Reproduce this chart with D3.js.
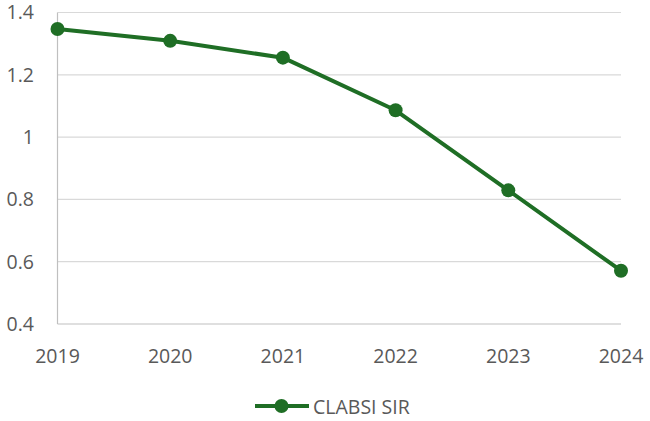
<!DOCTYPE html>
<html>
<head>
<meta charset="utf-8">
<script src="https://cdn.jsdelivr.net/npm/d3@7"></script>
<style>
  body { margin: 0; background: #fff; }
  text { font-family: "Open Sans", "Noto Sans", sans-serif; fill: #595959; }
</style>
</head>
<body>
<div id="chart"></div>
<script>
var years = ["2019", "2020", "2021", "2022", "2023", "2024"];
var sirValues = [1.347, 1.309, 1.255, 1.086, 0.829, 0.571];
var yTicks = [0.4, 0.6, 0.8, 1.0, 1.2, 1.4];
var seriesName = "CLABSI SIR";

var width = 650, height = 421;
var plotLeft = 57.5, plotRight = 621, plotTop = 12.5, plotBottom = 324;
var green = "#1f6e25";
var fontSize = "19.5px";

var svg = d3.select("#chart").append("svg")
	.attr("width", width).attr("height", height);

var x = d3.scalePoint().domain(years).range([plotLeft, plotRight]);
var y = d3.scaleLinear().domain([0.4, 1.4]).range([plotBottom, plotTop]);

// gridlines
svg.append("g").selectAll("line").data(yTicks).enter().append("line")
	.attr("x1", plotLeft).attr("x2", plotRight)
	.attr("y1", function(d) { return y(d); })
	.attr("y2", function(d) { return y(d); })
	.attr("stroke", function(d) { return d === 0.4 ? "#bfbfbf" : "#d9d9d9"; })
	.attr("stroke-width", 1.2);

// y axis line
svg.append("line")
	.attr("x1", plotLeft).attr("x2", plotLeft).attr("y1", plotTop).attr("y2", plotBottom)
	.attr("stroke", "#bfbfbf").attr("stroke-width", 1.2);

// y labels
svg.append("g").selectAll("text").data(yTicks).enter().append("text")
	.attr("x", 34).attr("y", function(d) { return y(d); })
	.attr("dy", "0.35em").attr("text-anchor", "end")
	.style("font-size", fontSize)
	.text(function(d) { return String(+d.toFixed(1)); });

// x labels
svg.append("g").selectAll("text").data(years).enter().append("text")
	.attr("x", function(d) { return x(d); }).attr("y", 363)
	.attr("text-anchor", "middle")
	.style("font-size", fontSize)
	.text(function(d) { return d; });

var line = d3.line()
	.x(function(d, i) { return x(years[i]); })
	.y(function(d) { return y(d); });

svg.append("path").datum(sirValues)
	.attr("d", line).attr("fill", "none")
	.attr("stroke", green).attr("stroke-width", 4)
	.attr("stroke-linejoin", "round");

svg.append("g").selectAll("circle").data(sirValues).enter().append("circle")
	.attr("cx", function(d, i) { return x(years[i]); })
	.attr("cy", function(d) { return y(d); })
	.attr("r", 7).attr("fill", green);

// legend
var lg = svg.append("g");
lg.append("line").attr("x1", 255).attr("x2", 309).attr("y1", 406).attr("y2", 406)
	.attr("stroke", green).attr("stroke-width", 4);
lg.append("circle").attr("cx", 281.5).attr("cy", 406).attr("r", 7).attr("fill", green);
lg.append("text").attr("x", 313).attr("y", 407).attr("dy", "0.35em")
	.style("font-size", fontSize).text(seriesName);
</script>
</body>
</html>
